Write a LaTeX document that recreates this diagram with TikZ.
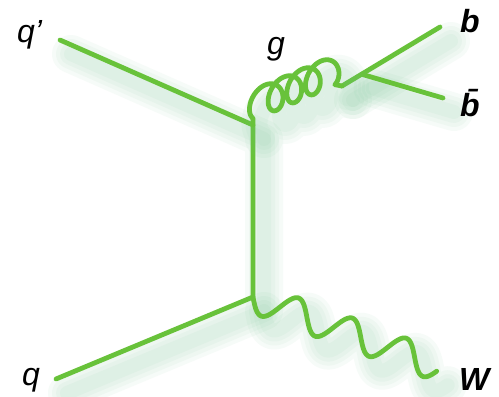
\documentclass[tikz,border=0pt]{standalone}
\usepackage{fontspec}
\setmainfont{Liberation Sans}
\usetikzlibrary{calc}
\definecolor{fgreen}{RGB}{104,194,58}
\definecolor{glowc}{RGB}{110,195,140}
\tikzset{
  glowlayer/.style={preaction={draw=glowc, line width=#1, draw opacity=0.06, line cap=round, line join=round,
      transform canvas={shift={(11pt,-14pt)}}}},
  fline/.style={draw=fgreen, line width=4.8pt, line cap=round, line join=round,
      glowlayer=38pt, glowlayer=30pt, glowlayer=22pt, glowlayer=14pt},
  lbl/.style={anchor=base west, inner sep=0pt, font=\fontsize{32}{36}\selectfont\itshape},
  blbl/.style={anchor=base west, inner sep=0pt, font=\fontsize{32}{36}\selectfont\bfseries\itshape},
}
\begin{document}
\begin{tikzpicture}[x=1pt,y=-1pt]
\fill[white] (0,0) rectangle (499,397);
\useasboundingbox (0,0) rectangle (499,397);
% vertices and end points
\coordinate (qp) at (60,40);
\coordinate (vt) at (253,125);
\coordinate (vb) at (253,297);
\coordinate (q) at (56,379);
\coordinate (ge) at (342,86);
\coordinate (bb) at (440,27);
\coordinate (bbar) at (443,98);
\coordinate (bs) at ($(ge)!0.2!(bb)$);
% fermion lines
\draw[fline] (qp) -- (vt) -- (vb) -- (q);
\draw[fline] (ge) -- (bb);
\draw[fline] (bs) -- (bbar);
% gluon
\draw[fline] (vt) -- plot[domain=90:1480, samples=600, smooth, variable=\t]
  ({263 + 0.051861*(\t-180) + 10.34*cos(\t) - 5.47*sin(\t)},
   {101 - 0.022222*(\t-180) + 3.76*cos(\t) + 15.04*sin(\t)}) -- (ge);
% W boson
\draw[fline] (vb) -- plot[domain=0:198, samples=300, smooth, variable=\s]
  ({253 + 0.937*\s - 0.35*15*sin(6.26087*\s)}, {297 + 0.35*\s + 0.937*15*sin(6.26087*\s)});
% labels
\node[lbl] (lqp) at (17,42) {q'};
\node[lbl] (lg) at (267,54) {g};
\node[blbl] (lb) at (460,32) {b};
\node[blbl] (lbb) at (460,116) {\=b};
\node[lbl] (lq) at (22,385) {q};
\node[blbl] (lw) at (459,390) {W};
\end{tikzpicture}
\end{document}
